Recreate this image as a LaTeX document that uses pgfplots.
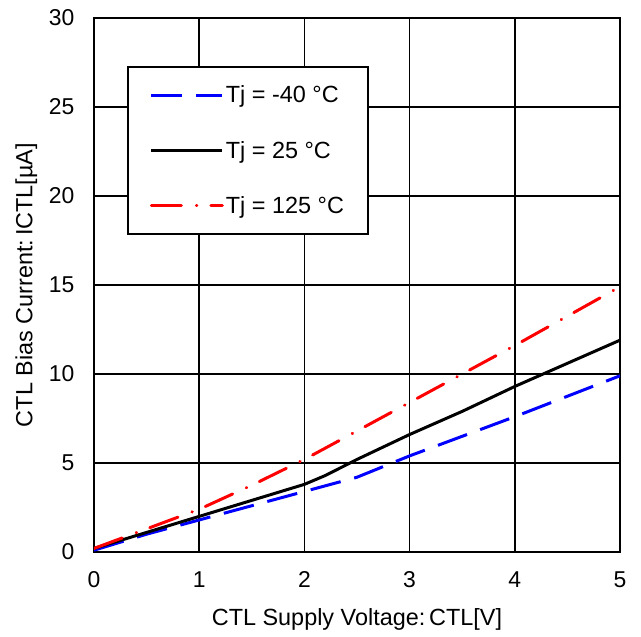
\documentclass[border=0pt]{standalone}
\usepackage{pgfplots}
\pgfplotsset{compat=1.18}
\usepackage{fontspec}
\setmainfont{Liberation Sans}
\begin{document}
\begin{tikzpicture}[x=1bp,y=1bp]
\begin{axis}[
  name=ax,
  scale only axis,
  width=526bp, height=534bp,
  xmin=0, xmax=5, ymin=0, ymax=30,
  xtick={0,1,2,3,4,5}, ytick={0,5,10,15,20,25,30},
  grid=major,
  major grid style={black, line width=1.6pt},
  axis line style={black, line width=2.2pt},
  tick style={draw=none},
  /pgf/number format/assume math mode=true,
  ticklabel style={font=\fontsize{23}{27}\selectfont},
  label style={font=\fontsize{23.5}{28}\selectfont},
  xlabel={CTL Supply Voltage:\,CTL[V]},
  ylabel={CTL Bias Current:\,ICTL[µA]},
  xticklabel style={yshift=-16bp},
  yticklabel style={xshift=-16bp},
  xlabel style={yshift=-14bp},
  ylabel style={yshift=5bp},
  legend style={at={(0.063,0.91)}, anchor=north west, draw=black, line width=1.6pt,
    font=\fontsize{23.5}{28}\selectfont, row sep=33bp, inner xsep=22bp, inner ysep=17bp,
    cells={anchor=west}},
  legend image post style={line width=3pt},
  legend image code/.code={\draw[#1] (0bp,0bp) -- (71bp,0bp);},
]
\addplot[blue, line width=3pt, dash pattern=on 31bp off 14bp] coordinates {
 (0,0.1) (0.5,1.0) (1,1.8) (1.5,2.6) (2,3.4) (2.5,4.2) (3,5.4) (3.5,6.5) (4,7.6) (4.5,8.75) (5,9.9)};
\addlegendentry{Tj = -40 °C}
\addplot[black, line width=3pt] coordinates {
 (0,0.2) (0.5,1.1) (1,2.0) (1.5,2.9) (2,3.8) (2.2,4.3) (2.5,5.2) (3,6.6) (3.5,7.9) (4,9.3) (4.5,10.6) (5,11.9)};
\addlegendentry{Tj = 25 °C}
\addplot[red, line width=3pt, dash pattern=on 30bp off 15bp on 0.5bp off 14bp, line cap=round] coordinates {
 (0,0.2) (0.5,1.3) (1,2.4) (1.5,3.75) (2,5.2) (2.5,6.8) (3,8.4) (3.5,10.0) (4,11.6) (4.5,13.25) (5,14.9)};
\addlegendentry{Tj = 125 °C}
\end{axis}
\path ([xshift=-94bp,yshift=-85bp]ax.south west) rectangle ([xshift=21bp,yshift=18bp]ax.north east);
\end{tikzpicture}
\end{document}
